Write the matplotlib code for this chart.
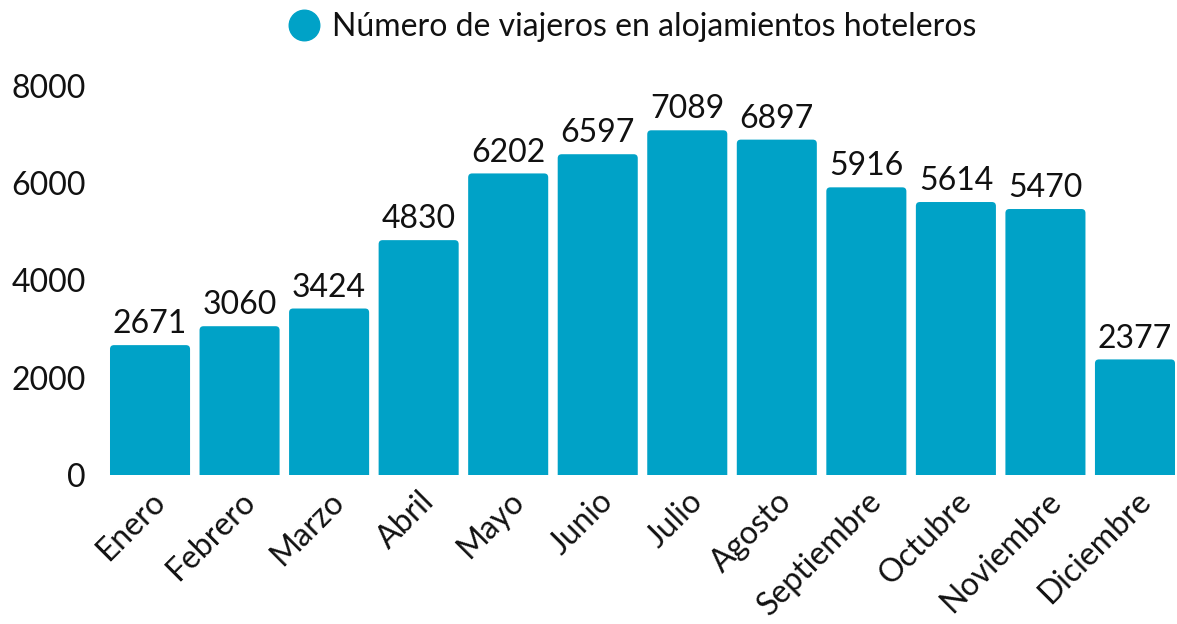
import matplotlib
matplotlib.use("Agg")
import matplotlib.pyplot as plt
from matplotlib.patches import FancyBboxPatch
from matplotlib.lines import Line2D

plt.rcParams['font.family'] = ['Lato', 'DejaVu Sans']

meses = ['Enero', 'Febrero', 'Marzo', 'Abril', 'Mayo', 'Junio', 'Julio',
         'Agosto', 'Septiembre', 'Octubre', 'Noviembre', 'Diciembre']
viajeros = [2671, 3060, 3424, 4830, 6202, 6597, 7089, 6897, 5916, 5614, 5470, 2377]
y_ticks = [0, 2000, 4000, 6000, 8000]
serie = 'Número de viajeros en alojamientos hoteleros'

color = '#00A2C7'
fs = 23
W, H = 1177, 624
fig = plt.figure(figsize=(W / 100, H / 100), dpi=100)
ax = fig.add_axes([105.25 / W, 149 / H, 1074.5 / W, 389 / H])
ax.set_xlim(-0.5, len(meses) - 0.5)
ax.set_ylim(0, 8000)

# bars with slightly rounded tops
bw = 0.894
px_x = 1074.5 / len(meses)  # px per unit x
px_y = 389 / 8000           # px per unit y
r = 4 / px_x
aspect = px_x / px_y
for i, v in enumerate(viajeros):
    p = FancyBboxPatch((i - bw / 2, -300), bw, v + 300,
                       boxstyle=f'round,pad=0,rounding_size={r}',
                       mutation_aspect=aspect, fc=color, ec='none')
    ax.add_patch(p)
    ax.text(i, v + 120, str(v), ha='center', va='bottom', fontsize=fs, color='#111111')

ax.set_yticks(y_ticks)
ax.set_yticklabels([str(t) for t in y_ticks], fontsize=fs, color='#111111')
ax.set_xticks(range(len(meses)))
ax.set_xticklabels(meses, rotation=45, ha='right', rotation_mode='anchor',
                   fontsize=fs, color='#111111')
ax.tick_params(axis='both', length=0)
ax.tick_params(axis='y', pad=14)
ax.tick_params(axis='x', pad=8)
for s in ax.spines.values():
    s.set_visible(False)

handle = Line2D([], [], marker='o', linestyle='none', markersize=22,
                markerfacecolor=color, markeredgecolor=color)
fig.legend([handle], [serie], loc='center', bbox_to_anchor=(630.5 / W, 1 - 27 / H),
           frameon=False, fontsize=fs, handletextpad=0.3, handlelength=1.2,
           labelcolor='#111111')

fig.savefig('out.png', dpi=100)
